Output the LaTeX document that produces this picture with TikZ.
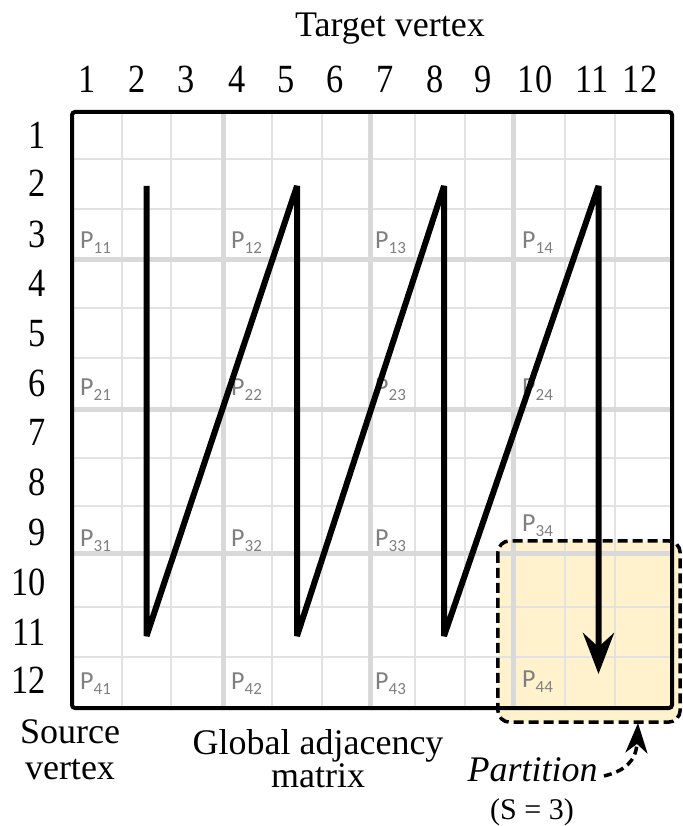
\documentclass[tikz,border=0pt]{standalone}
\usepackage{fontspec}
\setmainfont{Liberation Serif}
\newfontfamily\psans{Carlito}
\usepackage{graphicx}
\usetikzlibrary{arrows.meta}

\definecolor{gthincol}{HTML}{E2E2E2}
\definecolor{gthickcol}{HTML}{D9D9D9}
\definecolor{partfill}{HTML}{FFF2CC}
\definecolor{plab}{HTML}{7F7F7F}

\newcommand{\dg}[1]{{\fontsize{40}{40}\selectfont\scalebox{0.86}[1]{#1}}}
\newcommand{\pl}[1]{{\psans\fontsize{26}{26}\selectfont P\raisebox{-5pt}{\fontsize{17}{17}\selectfont #1}}}

\begin{document}
\begin{tikzpicture}[x=1pt,y=-1pt,
  gthin/.style={draw=gthincol, line width=1.6pt},
  gthick/.style={draw=gthickcol, line width=5pt},
  frame/.style={line width=4pt, rounded corners=3pt},
  zig/.style={line width=6pt, line join=bevel, -{Stealth[length=41pt,width=31pt,inset=14pt]}},
  partbox/.style={fill=partfill, rounded corners=12pt, minimum width=182pt, minimum height=181pt, inner sep=0pt},
  partdash/.style={line width=3.5pt, dash pattern=on 10pt off 5pt, rounded corners=12pt},
  curvearrow/.style={line width=3.5pt, dash pattern=on 8pt off 5pt, -{Stealth[length=30pt,width=22pt,inset=9pt]}},
  collab/.style={anchor=base, inner sep=0pt},
  rowlab/.style={anchor=base east, inner sep=0pt},
  plabel/.style={anchor=base west, inner sep=0pt, text=plab},
  caption/.style={font=\rmfamily\fontsize{36}{36}\selectfont, anchor=base, inner sep=0pt},
]
\useasboundingbox (0,0) rectangle (682,826);

% partition highlight fill
\node[partbox] (part) at (589,631.5) {};

% grid
\foreach \x in {122,171,272,322,415,465,565,615} \draw[gthin] (\x,112) -- (\x,708);
\foreach \y in {159,209,308,358,458,506,607,657} \draw[gthin] (72,\y) -- (672,\y);
\foreach \x in {223,370,513} \draw[gthick] (\x,112) -- (\x,708);
\foreach \y in {259,409,553} \draw[gthick] (72,\y) -- (672,\y);

% partition labels
\node[plabel] (p11) at (80,248) {\pl{11}};
\node[plabel] (p12) at (231,248) {\pl{12}};
\node[plabel] (p13) at (375,248) {\pl{13}};
\node[plabel] (p14) at (522,248) {\pl{14}};
\node[plabel] (p21) at (80,395) {\pl{21}};
\node[plabel] (p22) at (231,395) {\pl{22}};
\node[plabel] (p23) at (375,395) {\pl{23}};
\node[plabel] (p24) at (522,395) {\pl{24}};
\node[plabel] (p31) at (80,546) {\pl{31}};
\node[plabel] (p32) at (231,546) {\pl{32}};
\node[plabel] (p33) at (375,546) {\pl{33}};
\node[plabel] (p34) at (522,531) {\pl{34}};
\node[plabel] (p41) at (80,689) {\pl{41}};
\node[plabel] (p42) at (231,689) {\pl{42}};
\node[plabel] (p43) at (375,689) {\pl{43}};
\node[plabel] (p44) at (522,687) {\pl{44}};

% frame
\draw[frame] (72,112) rectangle (672,708);

% zigzag traversal
\coordinate (z1) at (146.5,186);
\coordinate (z2) at (146.5,636);
\coordinate (z3) at (297,186);
\coordinate (z4) at (297,636);
\coordinate (z5) at (444,186);
\coordinate (z6) at (444,636);
\coordinate (z7) at (598.5,186);
\coordinate (z8) at (598.5,674);
\draw[zig] (z1) -- (z2) -- (z3) -- (z4) -- (z5) -- (z6) -- (z7) -- (z8);

% partition dashed outline
\draw[partdash] (part.north west) rectangle (part.south east);

% titles
\node[caption] (target) at (390,37) {Target vertex};
\node[caption] (src1) at (70,743) {Source};
\node[caption] (src2) at (70,779) {vertex};
\node[caption] (gam1) at (318,754) {Global adjacency};
\node[caption] (gam2) at (318,787) {matrix};
\node[caption, font=\rmfamily\fontsize{36}{36}\selectfont\itshape] (ptxt) at (532.5,781) {Partition};
\node[caption, font=\rmfamily\fontsize{30}{30}\selectfont] (sval) at (532,819) {(S = 3)};

% arrow from label to partition
\coordinate (pstart) at (604,776);
\coordinate (ptip) at (638,723);
\draw[curvearrow] (pstart) .. controls (624,771) and (636,762) .. (ptip);

% column numbers
\foreach \n/\x in {1/87,2/137,3/186,4/237,5/286,6/335,7/385,8/435,9/483,10/535,11/592,12/640}
  \node[collab] (c\n) at (\x,93) {\dg{\n}};

% row numbers
\foreach \n/\y in {1/149,2/197,3/247,4/296.7,5/346.4,6/396,7/445.8,8/495.5,9/545,10/595,11/645,12/693}
  \node[rowlab] (r\n) at (46,\y) {\dg{\n}};

\end{tikzpicture}
\end{document}
